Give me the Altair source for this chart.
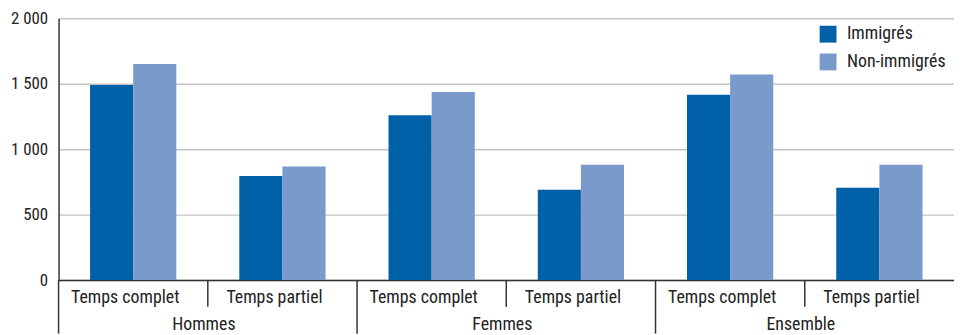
import altair as alt
import pandas as pd

groups = ["Hommes", "Femmes", "Ensemble"]
subs = ["Temps complet", "Temps partiel"]
series = ["Immigrés", "Non-immigrés"]
immigres = [1490, 795, 1260, 690, 1415, 705]
non_immigres = [1650, 867, 1437, 881, 1570, 881]
y_ticks = [0, 500, 1000, 1500, 2000]

colors = ["#0060A8", "#7A9ACC"]
FONT = "Liberation Sans Narrow, Roboto Condensed, DejaVu Sans Condensed, sans-serif"
FS = 18
W, H = 903, 264

slots, slot_group, slot_sub = [], [], []
for g in groups:
    for s in subs:
        slots.append(g + " | " + s)
        slot_group.append(g)
        slot_sub.append(s)

rows = []
for i, sl in enumerate(slots):
    rows.append({"slot": sl, "series": series[0], "value": immigres[i]})
    rows.append({"slot": sl, "series": series[1], "value": non_immigres[i]})
df = pd.DataFrame(rows)

slot_df = pd.DataFrame({"slot": slots, "group": slot_group, "sub": slot_sub})
group_start = slot_df[slot_df["sub"] == subs[0]]
group_mid = slot_df[slot_df["sub"] == subs[1]]

xscale = alt.Scale(domain=slots, paddingInner=0, paddingOuter=0)

bars = alt.Chart(df).mark_bar().encode(
    x=alt.X("slot:N", scale=xscale, sort=slots,
            axis=alt.Axis(labels=False, ticks=False, title=None, domain=True,
                          domainColor="#333333", domainWidth=1.5, grid=False)),
    xOffset=alt.XOffset("series:N", sort=series,
                        scale=alt.Scale(domain=series, paddingInner=0, paddingOuter=0.73)),
    y=alt.Y("value:Q", scale=alt.Scale(domain=[0, 2000], nice=False),
            axis=alt.Axis(values=y_ticks, title=None, ticks=False, grid=True,
                          gridColor="#c4c4c4", gridWidth=1.5,
                          domain=True, domainColor="#333333", domainWidth=1.5,
                          labelExpr="replace(format(datum.value, ','), ',', ' ')",
                          labelFont=FONT, labelFontSize=17, labelColor="#222222",
                          labelPadding=11)),
    color=alt.Color("series:N", sort=series,
                    scale=alt.Scale(domain=series, range=colors),
                    legend=alt.Legend(title=None, orient="none", legendX=767, legendY=7,
                                      symbolType="square", symbolSize=289,
                                      symbolStrokeWidth=0, labelFont=FONT,
                                      labelFontSize=FS, labelColor="#222222",
                                      labelOffset=10, rowPadding=10, padding=0)),
)

sub_labels = alt.Chart(slot_df).mark_text(
    font=FONT, fontSize=FS, color="#222222", baseline="middle", dx=-8
).encode(
    x=alt.X("slot:N", scale=xscale, sort=slots),
    y=alt.value(H + 18),
    text="sub:N",
)

group_labels = alt.Chart(group_mid).mark_text(
    font=FONT, fontSize=FS, color="#222222", baseline="middle", dx=-4
).encode(
    x=alt.X("slot:N", scale=xscale, sort=slots, bandPosition=0),
    y=alt.value(H + 45),
    text="group:N",
)

sub_sep = alt.Chart(group_mid).mark_rule(color="#333333", strokeWidth=1.5).encode(
    x=alt.X("slot:N", scale=xscale, sort=slots, bandPosition=0),
    y=alt.value(H),
    y2=alt.value(H + 27),
)

group_sep = alt.Chart(group_start).mark_rule(color="#333333", strokeWidth=1.5).encode(
    x=alt.X("slot:N", scale=xscale, sort=slots, bandPosition=0),
    y=alt.value(H),
    y2=alt.value(H + 54),
)

chart = alt.layer(bars, sub_sep, group_sep, sub_labels, group_labels).properties(
    width=W, height=H,
    autosize=alt.AutoSizeParams(type="none"),
    padding={"left": 51, "top": 9, "right": 0, "bottom": 54},
).configure_view(stroke=None)

chart.save("out.html", embed_options={"renderer": "svg", "actions": False})
